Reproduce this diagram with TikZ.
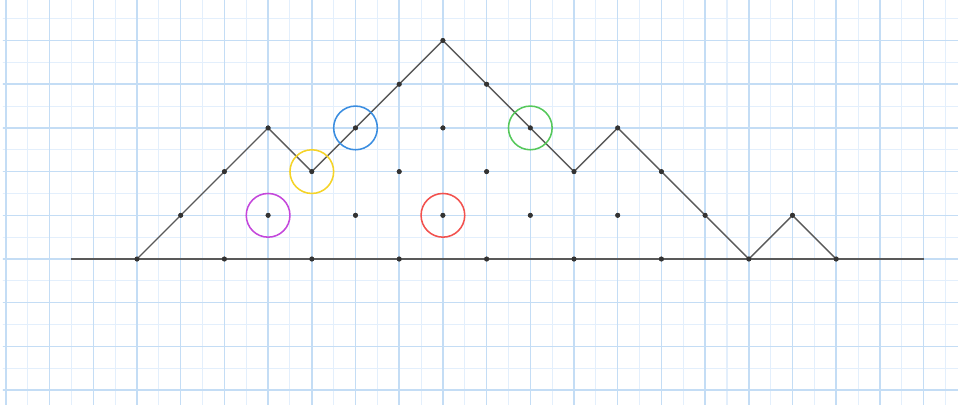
\documentclass[tikz,border=0pt]{standalone}
\begin{document}
\begin{tikzpicture}[x=1cm,y=1cm,
  pathline/.style={draw=black!65, line width=0.9pt},
  baseline/.style={draw=black!65, line width=1.1pt},
  dot/.style={circle, fill=black!80, inner sep=0pt, minimum size=3.2pt},
  ring/.style={circle, draw, line width=1pt, minimum size=1cm, inner sep=0pt}]
\definecolor{cpurple}{HTML}{C447DB}
\definecolor{cyellow}{HTML}{F5D327}
\definecolor{cblue}{HTML}{3A8DE0}
\definecolor{cred}{HTML}{F2514E}
\definecolor{cgreen}{HTML}{55C85A}
\definecolor{gmin}{HTML}{E3EFFC}
\definecolor{gmaj}{HTML}{C4DDF5}
\useasboundingbox (-3.135,-3.455) rectangle (18.787,5.927);
\fill[white] (-3.135,-3.455) rectangle (18.787,5.927);
% grid
\begin{scope}
\clip (-3.07,-3.34) rectangle (18.787,5.927);
\foreach \i in {-4,...,18} {\draw[draw=gmin, line width=0.7pt] (\i+0.5,-3.455) -- (\i+0.5,5.927);}
\foreach \j in {-4,...,5} {\draw[draw=gmin, line width=0.7pt] (-3.135,\j+0.5) -- (18.787,\j+0.5);}
\foreach \i in {-3,...,18} {\draw[draw=gmaj, line width=1pt] (\i,-3.455) -- (\i,5.927);}
\foreach \j in {-3,...,5} {\draw[draw=gmaj, line width=1pt] (-3.135,\j) -- (18.787,\j);}
\end{scope}
% lattice points
\foreach \x/\y in {0/0,2/0,4/0,6/0,8/0,10/0,12/0,14/0,16/0,
  1/1,3/1,5/1,7/1,9/1,11/1,13/1,15/1,
  2/2,4/2,6/2,8/2,10/2,12/2,
  3/3,5/3,7/3,9/3,11/3,
  6/4,8/4,7/5}
  {\node[dot] (p\x-\y) at (\x,\y) {};}
\coordinate (L) at (-1.5,0);
\coordinate (R) at (18,0);
\draw[baseline] (L) -- (R);
\draw[pathline] (p0-0.center) -- (p1-1.center) -- (p2-2.center) -- (p3-3.center) -- (p4-2.center)
  -- (p5-3.center) -- (p6-4.center) -- (p7-5.center) -- (p8-4.center) -- (p9-3.center)
  -- (p10-2.center) -- (p11-3.center) -- (p12-2.center) -- (p13-1.center) -- (p14-0.center)
  -- (p15-1.center) -- (p16-0.center);
% redraw dots on top
\foreach \x/\y in {0/0,2/0,4/0,6/0,8/0,10/0,12/0,14/0,16/0,
  1/1,3/1,5/1,7/1,9/1,11/1,13/1,15/1,
  2/2,4/2,6/2,8/2,10/2,12/2,
  3/3,5/3,7/3,9/3,11/3,
  6/4,8/4,7/5}
  {\fill[black!80] (p\x-\y) circle (1.6pt);}
% rings
\node[ring, draw=cpurple] (c1) at (p3-1) {};
\node[ring, draw=cyellow] (c2) at (p4-2) {};
\node[ring, draw=cblue] (c3) at (p5-3) {};
\node[ring, draw=cred] (c4) at (p7-1) {};
\node[ring, draw=cgreen] (c5) at (p9-3) {};
\end{tikzpicture}
\end{document}
